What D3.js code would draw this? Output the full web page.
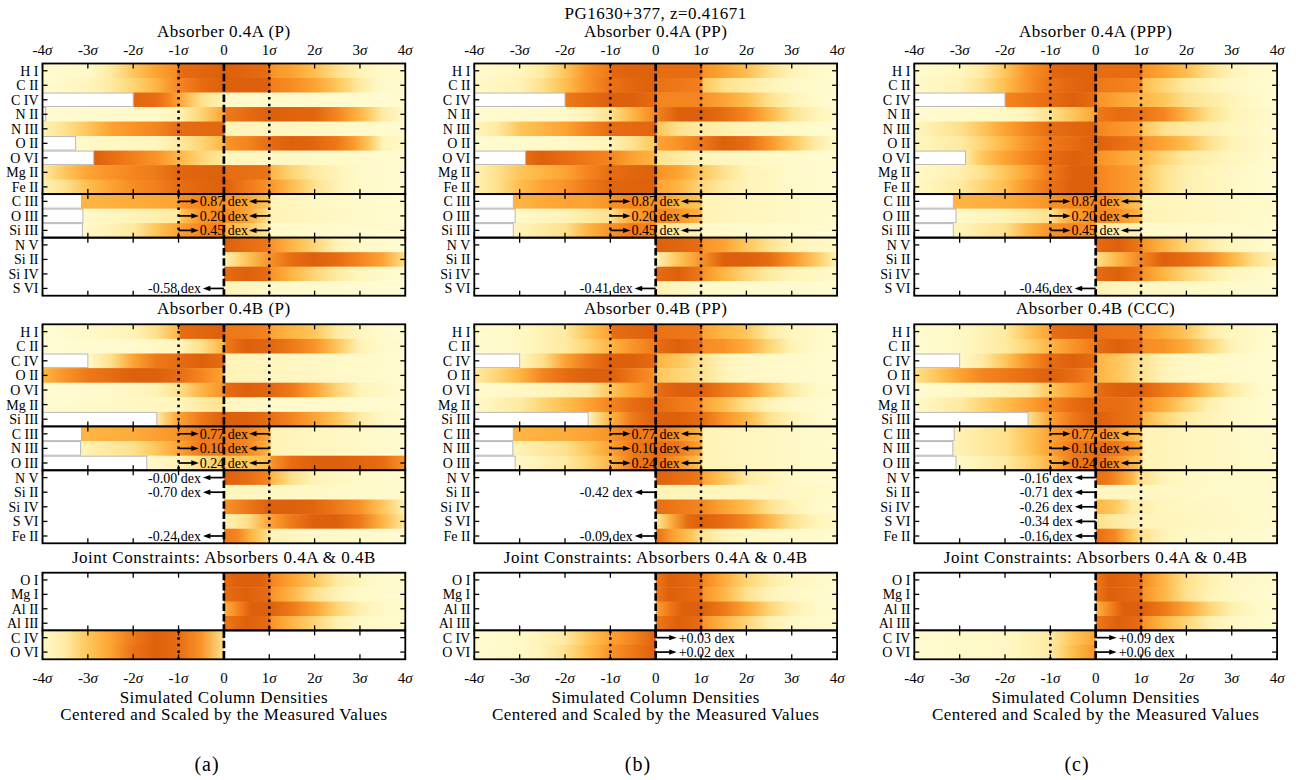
<!DOCTYPE html>
<html><head><meta charset="utf-8">
<script src="https://cdn.jsdelivr.net/npm/d3@7"></script>
<style>
body{margin:0;background:#fff;}
svg text{font-family:"Liberation Serif","Times New Roman",serif;fill:#000;}
</style></head><body>
<svg id="chart" width="1303" height="780"></svg>
<script>
// ---------------- DATA ----------------
const mainTitle = "PG1630+377, z=0.41671";
const figLabels = ["(a)", "(b)", "(c)"];
const titlesA = ["Absorber 0.4A (P)", "Absorber 0.4A (PP)", "Absorber 0.4A (PPP)"];
const titlesB = ["Absorber 0.4B (P)", "Absorber 0.4B (PP)", "Absorber 0.4B (CCC)"];
const titleJ = "Joint Constraints: Absorbers 0.4A & 0.4B";
const xLabel1 = "Simulated Column Densities";
const xLabel2 = "Centered and Scaled by the Measured Values";
const sigmaTicks = [-4, -3, -2, -1, 0, 1, 2, 3, 4];
const sigmaTickLabels = ["-4σ", "-3σ", "-2σ", "-1σ", "0", "1σ", "2σ", "3σ", "4σ"];

const ionsA1 = ["H I", "C II", "C IV", "N II", "N III", "O II", "O VI", "Mg II", "Fe II"];
const ionsA2 = ["C III", "O III", "Si III"];
const ionsA3 = ["N V", "Si II", "Si IV", "S VI"];
const ionsB1 = ["H I", "C II", "C IV", "O II", "O VI", "Mg II", "Si III"];
const ionsB2 = ["C III", "N III", "O III"];
const ionsB3 = ["N V", "Si II", "Si IV", "S VI", "Fe II"];
const ionsJ1 = ["O I", "Mg I", "Al II", "Al III"];
const ionsJ2 = ["C IV", "O VI"];

// annotations (dex offsets)
const dexA2 = ["0.87 dex", "0.20 dex", "0.45 dex"];
const dexB2 = ["0.77 dex", "0.10 dex", "0.24 dex"];
const dexA3 = [[null, null, null, "-0.58 dex"], [null, null, null, "-0.41 dex"], [null, null, null, "-0.46 dex"]];
const dexB3 = [["-0.00 dex", "-0.70 dex", null, null, "-0.24 dex"],
               [null, "-0.42 dex", null, null, "-0.09 dex"],
               ["-0.16 dex", "-0.71 dex", "-0.26 dex", "-0.34 dex", "-0.16 dex"]];
const dexJ2 = [[null, null], ["+0.03 dex", "+0.02 dex"], ["+0.09 dex", "+0.06 dex"]];

// density of simulated values: [sigma, intensity 0..10]; extent = coloured range
// ---- model (a) ----
const aA1 = [
 [[-4,0.3],[-3,0.5],[-2.5,1.5],[-2,3],[-1.5,5],[-1.05,6.5],[-1,9],[0,10],[1,9],[1.05,6],[1.5,5],[2,3.5],[2.5,2],[3,1],[3.5,0.5],[4,0.3]],
 [[-4,0.3],[-3,0.8],[-2.5,1.5],[-2,2.5],[-1.5,4],[-1,7],[-0.5,9],[0,10],[1,10],[1.05,7.5],[1.5,6.5],[2,5],[2.5,3],[3,1.5],[3.5,0.5],[4,0.3]],
 [[-2,9.5],[-1.5,9],[-1.2,7],[-1,5],[-0.5,2],[0,1],[0.05,0.5],[4,0.3]],
 [[-3.93,0.3],[-1.5,0.5],[-1,1],[-0.5,2.5],[0,5],[0.05,8],[0.5,9],[1,10],[2,9.5],[2.5,7],[3,4],[3.5,1.5],[4,0.5]],
 [[-4,1],[-3.5,2],[-3,3],[-2.5,5],[-2,6],[-1.5,7],[-1,9],[0,9.5],[0.05,1],[1,0.8],[4,0.3]],
 [[-3.27,0.5],[-1.5,0.8],[-1,1.5],[-0.5,2.5],[0,4],[0.05,6],[0.5,7],[1,9],[1.5,10],[2,9.5],[2.5,8],[2.8,6],[3.2,3],[3.5,1],[4,0.5]],
 [[-2.87,10],[-2.5,9],[-2,7.5],[-1.5,6],[-1,4],[-0.5,2.5],[0,1.5],[0.05,0.8],[4,0.3]],
 [[-4,1.5],[-3.5,3],[-3,5],[-2.5,6],[-2,7],[-1.5,8],[-1,9.5],[0,10],[0.05,9],[1,8.5],[1.05,4],[1.5,2.5],[2,1.5],[2.5,1],[3,0.5],[4,0.3]],
 [[-4,1],[-3.5,2],[-3,3.5],[-2.5,5],[-2,6.5],[-1.5,7.5],[-1,9],[0,10],[0.5,8],[1,6],[1.5,3.5],[2,2],[2.5,1],[3,0.5],[4,0.3]]
];
const aA2 = [
 [[-3.14,4],[-2,4.5],[-1,5],[-0.95,6],[-0.5,7],[0,6],[0.5,5],[1,3],[1.05,1],[2,0.6],[4,0.3]],
 [[-3.11,0.5],[-2,1],[-1,1.5],[-0.95,3],[-0.5,6],[0,7],[0.5,5],[1,2],[1.05,1],[3,0.5],[4,0.3]],
 [[-3.12,0.5],[-2,1.5],[-1.5,3],[-1,5],[-0.5,7],[0,7.5],[0.05,4],[0.5,3],[1,1.5],[1.05,0.5],[4,0.3]]
];
const aA3 = [
 [[0,10],[0.5,9],[1,8],[1.05,6],[1.5,4],[2,2.5],[2.5,1],[3,0.5],[4,0.3]],
 [[0,1],[0.5,3],[1,6],[1.5,9],[2,10],[2.5,9],[3,7],[3.5,5],[4,2]],
 [[0,9],[0.5,10],[1,9],[1.05,6],[1.5,4],[2,2.5],[2.5,1.5],[3,0.8],[4,0.3]],
 [[0,1],[1,0.5],[4,0.2]]
];
const aB1 = [
 [[-4,0.2],[-3,0.5],[-2,1],[-1.5,2],[-1,4],[-0.95,9],[0,10],[0.05,8],[0.5,8],[1,7],[1.05,5],[1.5,4],[2,3],[2.5,1.5],[3,0.8],[3.5,0.4],[4,0.2]],
 [[-4,0.2],[-2,0.4],[-1,0.8],[-0.5,2],[0,4],[0.05,8],[0.5,10],[1,9.5],[1.5,8],[2,6],[2.5,3],[3,1],[3.5,0.5],[4,0.3]],
 [[-3,0.5],[-2.5,2],[-2,5],[-1.5,8],[-1,9],[-0.5,10],[0,9],[0.05,1],[4,0.3]],
 [[-4,4],[-3.5,6],[-3,8],[-2.5,9],[-2,10],[-1.5,10],[-1,9],[-0.5,7],[0,5],[0.05,1],[4,0.3]],
 [[-4,0.2],[-2.5,0.5],[-1.5,1],[-1,2],[-0.5,4],[0,6],[0.05,9],[0.5,10],[1,9.5],[1.5,8],[2,5],[2.5,2.5],[3,1],[4,0.3]],
 [[-4,0.3],[-1,0.8],[-0.5,1.5],[0,2],[0.05,0.8],[1,0.5],[4,0.3]],
 [[-1.48,1.5],[-1,5],[-0.5,8],[0,10],[0.5,10],[1,9],[1.5,7],[2,5],[2.5,3],[3,1.5],[3.5,0.6],[4,0.3]]
];
const aB2 = [
 [[-3.14,4],[-2,4.5],[-1,6],[-0.5,8],[0,8],[0.5,7],[1,5],[1.05,1],[4,0.3]],
 [[-3.16,1],[-2,2],[-1.5,3],[-1,5],[-0.5,8],[0,8],[0.5,7],[1,4],[1.05,1],[4,0.3]],
 [[-1.7,0.5],[-1,1],[-0.5,2],[0,3],[0.5,3],[1,3.5],[1.05,6],[1.5,9],[2,10],[2.5,10],[3,9.5],[3.5,9],[4,6]]
];
const aB3 = [
 [[0,10],[0.5,9],[1,7],[1.05,4],[1.5,2],[2,1],[3,0.5],[4,0.3]],
 [[0,0.8],[4,0.4]],
 [[0,6],[0.5,8],[1,10],[1.5,10],[2,9.5],[2.5,8],[3,6],[3.5,3],[4,1]],
 [[0,1],[0.5,2],[1,5],[1.5,8],[2,10],[2.5,10],[3,8],[3.5,4],[4,1.5]],
 [[0,8],[0.3,7],[0.6,4],[1,2],[1.05,1],[2,0.5],[4,0.3]]
];
const aJ1 = [
 [[0,9],[0.3,10],[0.8,10],[1,9],[1.05,7],[1.5,5],[2,3],[2.5,1.5],[3,0.8],[3.5,0.5],[4,0.3]],
 [[0,9],[0.5,10],[1,9],[1.05,6],[1.5,4],[2,2],[2.5,1],[3,0.5],[4,0.3]],
 [[0,4],[0.3,7],[0.6,10],[1,10],[1.5,8],[2,5],[2.5,2.5],[3,1.2],[3.5,0.6],[4,0.3]],
 [[0,8],[0.5,10],[1,9],[1.05,6],[1.5,4],[2,2.5],[2.5,1.2],[3,0.6],[4,0.3]]
];
const aJ2 = [
 [[-4,0.5],[-3.5,1.5],[-3,3],[-2.5,5],[-2,8],[-1.5,10],[-1,9],[-0.5,6],[0,2]],
 [[-4,0.5],[-3.5,1.5],[-3,3],[-2.5,5],[-2,8.5],[-1.5,10],[-1,9],[-0.5,6],[0,2]]
];
// ---- model (b) ----
const bA1 = [
 [[-4,0.3],[-3,0.8],[-2.5,1.5],[-2,3],[-1.5,6],[-1,8],[-0.95,9.5],[0,10],[0.05,9],[1,9],[1.05,6],[1.5,5],[2,3.5],[2.5,2],[3,1],[3.5,0.5],[4,0.3]],
 [[-4,0.5],[-3,1],[-2.5,2],[-2,3.5],[-1.5,6],[-1,8.5],[-0.5,9.5],[0,10],[0.05,8.5],[1,7.5],[1.05,3],[1.5,2],[2,1.5],[2.5,1],[3,0.6],[4,0.3]],
 [[-2,8],[-1.5,9],[-1,10],[-0.5,10],[0,9],[0.05,7],[0.5,7],[1,7],[1.05,6],[1.5,5],[2,3.5],[2.5,2],[3,1],[3.5,0.5],[4,0.3]],
 [[-4,0.3],[-2,0.5],[-1.5,1],[-1,2],[-0.5,4],[0,7],[0.5,10],[1,10],[1.5,9],[2,7],[2.5,4],[3,2],[3.5,1],[4,0.5]],
 [[-4,0.8],[-3.5,1.5],[-3,3],[-2.5,4],[-2,5],[-1.5,7],[-1,9],[0,9.5],[0.05,3],[0.5,2],[1,1.5],[2,1],[3,0.5],[4,0.3]],
 [[-4,0.3],[-2,0.5],[-1,1],[-0.5,2],[0,3],[0.05,5],[0.5,6],[1,8],[1.5,10],[2,9],[2.5,6],[3,3],[3.5,1.5],[4,0.5]],
 [[-2.87,9],[-2.5,10],[-2,9],[-1.5,8],[-1,7],[-0.5,5],[0,4],[0.05,2],[0.5,1.5],[1,1],[2,0.6],[4,0.3]],
 [[-4,1],[-3.5,2],[-3,3],[-2.5,4],[-2,5],[-1.5,7],[-1,9],[0,10],[0.05,6],[0.5,5],[1,3],[1.5,2],[2,1],[3,0.5],[4,0.3]],
 [[-4,1],[-3.5,2],[-3,3.5],[-2.5,5],[-2,6],[-1.5,8],[-1,9.5],[0,10],[0.05,5],[0.5,4],[1,2.5],[1.5,1.5],[2,1],[3,0.5],[4,0.3]]
];
const bA2 = [
 [[-3.14,4],[-2,5],[-1.5,5],[-1,6],[-0.5,7],[0,6],[0.5,4],[1,3],[1.05,1],[4,0.4]],
 [[-3.1,0.5],[-2,1],[-1,2],[-0.5,5],[0,7],[0.5,6],[1,4],[1.05,1],[4,0.4]],
 [[-3.14,0.8],[-2,2],[-1.5,4],[-1,6],[-0.5,8],[0,7],[0.05,2],[1,1],[1.05,0.5],[4,0.3]]
];
const bA3 = [
 [[0,10],[1,9],[1.05,6],[1.5,5],[2,3],[2.5,2],[3,1],[4,0.5]],
 [[0,1],[0.5,3],[1,6],[1.5,10],[2,10],[2.5,9],[3,6],[3.5,3],[4,1]],
 [[0,9],[0.5,10],[1,8],[1.05,6],[1.5,4],[2,2.5],[2.5,1.5],[3,1],[4,0.5]],
 [[0,1.2],[0.5,0.8],[1,0.5],[4,0.3]]
];
const bB1 = [
 [[-4,0.3],[-3,0.6],[-2,1.5],[-1.5,3],[-1,5],[-0.95,9],[0,10],[0.05,8.5],[1,8],[1.05,5],[1.5,4],[2,3],[2.5,1.5],[3,0.8],[4,0.3]],
 [[-4,0.3],[-3,0.6],[-2,1.5],[-1.5,2.5],[-1,4],[-0.5,6],[0,8],[0.05,9],[0.5,10],[1,9],[1.05,6.5],[1.5,6],[2,4.5],[2.5,2.5],[3,1],[3.5,0.5],[4,0.3]],
 [[-3,0.8],[-2.5,2],[-2,5],[-1.5,8],[-1,10],[-0.5,10],[0,9],[0.05,4],[0.5,3],[1,2],[1.5,1],[2,0.6],[4,0.3]],
 [[-4,1.5],[-3.5,2.5],[-3,4],[-2.5,7],[-2,9],[-1.5,10],[-1,10],[-0.5,8],[0,6],[0.05,3],[0.5,2.5],[1,2],[1.5,1],[2,0.6],[4,0.3]],
 [[-4,0.3],[-2.5,0.8],[-1.5,1.5],[-1,3],[-0.5,5],[0,7],[0.05,9],[0.5,10],[1,10],[1.5,8],[2,6],[2.5,3],[3,1.5],[3.5,0.6],[4,0.3]],
 [[-4,0.5],[-3,1.5],[-2.5,2.5],[-2,3.5],[-1.5,5],[-1,7],[-0.5,9],[0,10],[0.05,9],[0.5,8],[1,7],[1.05,5],[1.5,3.5],[2,2],[2.5,1],[3,0.5],[4,0.3]],
 [[-1.49,1],[-1,4],[-0.5,8],[0,10],[0.5,10],[1,9],[1.5,6],[2,4],[2.5,2],[3,1],[3.5,0.5],[4,0.3]]
];
const bB2 = [
 [[-3.14,4],[-2,4.5],[-1.5,5],[-1,6],[-0.5,8],[0,8],[0.5,6],[1,4],[1.05,1],[4,0.4]],
 [[-3.15,1],[-2,2],[-1.5,3],[-1,5],[-0.5,8],[0,9],[0.5,8],[1,5],[1.05,1],[4,0.4]],
 [[-3.1,0.5],[-2,1.5],[-1.5,2.5],[-1,4],[-0.5,8],[0,9],[0.5,6],[1,3],[1.05,1],[4,0.4]]
];
const bB3 = [
 [[0,10],[0.5,9],[1,8],[1.05,5],[1.5,3],[2,1.5],[2.5,1],[3,0.5],[4,0.3]],
 [[0,1],[4,0.5]],
 [[0,9],[0.5,8],[1,7],[1.5,5],[2,3.5],[2.5,2],[3,1],[3.5,0.5],[4,0.3]],
 [[0,1.5],[0.3,4],[0.7,9],[1,10],[1.5,9],[2,7],[2.5,4],[3,2],[3.5,1],[4,0.5]],
 [[0,9],[0.4,5],[0.8,3],[1,2],[1.5,1],[2,0.6],[4,0.3]]
];
const bJ1 = [
 [[0,8],[0.3,10],[1,9],[1.05,7],[1.5,4.5],[2,2.5],[2.5,1.5],[3,0.8],[4,0.4]],
 [[0,8],[0.3,10],[1,9],[1.05,6],[1.5,4],[2,2],[2.5,1],[3,0.6],[4,0.3]],
 [[0,5],[0.3,8],[0.6,10],[1,10],[1.5,8],[2,5],[2.5,2.5],[3,1.2],[3.5,0.6],[4,0.3]],
 [[0,8],[0.5,10],[1,9],[1.05,6],[1.5,4],[2,2.5],[2.5,1.2],[3,0.6],[4,0.3]]
];
const bJ2 = [
 [[-4,0.3],[-3,0.5],[-2.5,1],[-2,1.5],[-1.5,3],[-1,5],[-0.5,7],[0,10]],
 [[-4,0.3],[-3,0.6],[-2.5,1],[-2,2],[-1.5,3.5],[-1,6],[-0.5,8],[0,10]]
];
// ---- model (c) ----
const cA1 = [
 [[-4,0.3],[-3,0.8],[-2.5,1.5],[-2,3],[-1.5,6],[-1,8],[-0.95,9.5],[0,10],[0.05,9],[1,9],[1.05,6],[1.5,5],[2,3.5],[2.5,2],[3,1],[3.5,0.5],[4,0.3]],
 [[-4,0.5],[-3,1],[-2.5,2],[-2,3.5],[-1.5,6],[-1,8.5],[-0.5,9.5],[0,10],[0.05,8],[1,7],[1.05,3.5],[1.5,2.5],[2,1.5],[2.5,1],[3,0.6],[4,0.3]],
 [[-2,7],[-1.5,8],[-1,9],[-0.5,10],[0,9],[0.05,6],[0.5,5],[1,4],[1.5,3],[2,2],[2.5,1.5],[3,1],[3.5,0.5],[4,0.3]],
 [[-4,0.3],[-2,0.6],[-1.5,1],[-1,2],[-0.5,3],[0,5],[0.05,8],[0.5,9],[1,8.5],[1.5,7],[2,4],[2.5,2],[3,1],[4,0.4]],
 [[-4,0.8],[-3,2],[-2.5,3],[-2,5],[-1.5,7],[-1,9],[0,10],[0.05,7],[0.5,6],[1,5],[1.05,3],[1.5,2],[2,1.5],[3,0.8],[4,0.3]],
 [[-4,0.8],[-3,1.5],[-2.5,2.5],[-2,4],[-1.5,6],[-1,8],[-0.5,9],[0,10],[0.5,9],[1,8],[1.05,6],[1.5,5],[2,3.5],[2.5,2],[3,1],[4,0.4]],
 [[-2.87,1.5],[-2.5,3],[-2,5],[-1.5,7],[-1,9],[-0.5,10],[0,9.5],[0.05,6],[0.5,5],[1,4],[1.5,2.5],[2,1.5],[3,0.8],[4,0.3]],
 [[-4,0.5],[-3,1.2],[-2.5,2],[-2,3],[-1.5,5],[-1,8],[-0.5,10],[0,10],[0.05,7],[0.5,6],[1,5],[1.05,3],[1.5,2],[2,1.2],[3,0.6],[4,0.3]],
 [[-4,0.6],[-3,1.5],[-2.5,2.5],[-2,3.5],[-1.5,6],[-1,8.5],[-0.5,10],[0,10],[0.05,7],[0.5,6],[1,5],[1.05,3],[1.5,2],[2,1.2],[3,0.6],[4,0.3]]
];
const cA2 = [
 [[-3.14,4],[-2,4.5],[-1.5,5],[-1,6],[-0.5,7],[0,7],[0.5,5],[1,3],[1.05,1],[4,0.4]],
 [[-3.08,0.5],[-2,1],[-1,2],[-0.5,5],[0,7],[0.5,6],[1,4],[1.05,1],[4,0.4]],
 [[-3.14,0.8],[-2,2],[-1.5,4],[-1,6],[-0.5,7],[0,6],[0.05,1.5],[1,1],[1.05,0.5],[4,0.3]]
];
const cA3 = [
 [[0,9],[0.5,10],[1,8],[1.05,6],[1.5,4],[2,2.5],[2.5,1.5],[3,0.8],[4,0.3]],
 [[0,2],[0.5,4],[1,7],[1.5,10],[2,9],[2.5,7],[3,4],[3.5,2],[4,1]],
 [[0,9],[0.5,10],[1,8],[1.05,6],[1.5,4],[2,2.5],[2.5,1.5],[3,0.8],[4,0.3]],
 [[0,1.2],[0.5,0.8],[4,0.3]]
];
const cB1 = [
 [[-4,0.3],[-3,0.6],[-2,1.5],[-1.5,3],[-1,5],[-0.95,9],[0,10],[0.05,8.5],[1,8],[1.05,5.5],[1.5,4.5],[2,3],[2.5,1.5],[3,0.8],[4,0.3]],
 [[-4,0.3],[-3,0.6],[-2,1.5],[-1.5,2.5],[-1,4],[-0.5,6],[0,8],[0.05,9],[0.5,10],[1,9],[1.05,6.5],[1.5,6],[2,4.5],[2.5,2.5],[3,1],[3.5,0.5],[4,0.3]],
 [[-3,0.5],[-2.5,1.5],[-2,3],[-1.5,6],[-1,9],[-0.5,10],[0,9],[0.05,4],[0.5,3],[1,2],[1.5,1],[2,0.6],[4,0.3]],
 [[-4,2],[-3.5,3],[-3,5],[-2.5,7],[-2,8],[-1.5,9],[-1,10],[-0.5,9],[0,7],[0.05,4],[0.5,3],[1,2],[1.5,1],[2,0.6],[4,0.3]],
 [[-4,0.3],[-2.5,0.8],[-1.5,1.5],[-1,3],[-0.5,5],[0,7],[0.05,9],[0.5,10],[1,10],[1.5,8],[2,6],[2.5,3],[3,1.5],[3.5,0.6],[4,0.3]],
 [[-4,0.5],[-3,1.5],[-2.5,2.5],[-2,3.5],[-1.5,5],[-1,7],[-0.5,9],[0,10],[0.05,9],[0.5,9],[1,8],[1.05,6],[1.5,4.5],[2,2.5],[2.5,1.2],[3,0.6],[4,0.3]],
 [[-1.49,2],[-1,5],[-0.5,8],[0,10],[0.5,9],[1,8],[1.05,4],[1.5,2.5],[2,1.5],[2.5,1],[3,0.6],[4,0.3]]
];
const cB2 = [
 [[-3.12,1],[-2,2],[-1.5,3],[-1,5],[-0.5,7],[0,7],[0.5,5],[1,3],[1.05,1],[4,0.4]],
 [[-3.15,1],[-2,2],[-1.5,3],[-1,5],[-0.5,8],[0,9],[0.5,8],[1,5],[1.05,1],[4,0.4]],
 [[-3.08,0.5],[-2,1.5],[-1.5,2.5],[-1,4],[-0.5,8],[0,9],[0.5,6],[1,3],[1.05,1],[4,0.4]]
];
const cB3 = [
 [[0,9],[0.3,8],[0.8,4],[1,2],[1.5,1],[2,0.6],[4,0.4]],
 [[0,0.8],[4,0.4]],
 [[0,4],[0.4,3],[0.8,1.5],[1.5,0.8],[4,0.4]],
 [[0,2],[0.5,1.5],[1,1],[4,0.4]],
 [[0,9],[0.4,7],[0.8,3],[1,2],[1.5,1],[2,0.6],[4,0.3]]
];
const cJ1 = [
 [[0,8],[0.3,10],[1,9],[1.05,6.5],[1.5,4],[2,2],[2.5,1.2],[3,0.7],[4,0.4]],
 [[0,8],[0.3,10],[1,9],[1.05,6],[1.5,4],[2,2],[2.5,1],[3,0.6],[4,0.3]],
 [[0,4],[0.3,7],[0.6,10],[1,10],[1.5,8],[2,5],[2.5,2.5],[3,1.2],[3.5,0.6],[4,0.3]],
 [[0,8],[0.5,10],[1,9],[1.05,6],[1.5,4],[2,2.5],[2.5,1.2],[3,0.6],[4,0.3]]
];
const cJ2 = [
 [[-4,0.3],[-2,0.6],[-1,1.5],[-0.5,3],[0,5]],
 [[-4,0.3],[-2,0.6],[-1,1.5],[-0.5,3.5],[0,6]]
];

// ---------------- LAYOUT ----------------
const svg = d3.select("#chart");
const defs = svg.append("defs");
const colX = [42.5, 474.3, 914.3];
const plotW = 362.8;
const figLabelX = [207, 638, 1077];
const panelY = { A: [63.5, 295.7], B: [324.3, 543.3], J: [572.7, 659.3] };
const FONT_SMALL = 14, LS_SMALL = 0, FONT_TICK = 15, FONT_BIG = 17, LS_BIG = 0.5;

// colour map (YlOrBr, truncated)
const tOf = d3.scaleLinear().domain([0, 1, 3, 5.5, 8, 10]).range([0.03, 0.14, 0.36, 0.5, 0.6, 0.68]).clamp(true);
const cmap = v => d3.interpolateYlOrBr(tOf(v));

const dotted = { m: [-1, 1], l: [1], u: [-1] };

const columns = [
  { A: [[ionsA1, aA1, "m"], [ionsA2, aA2, "m"], [ionsA3, aA3, "l"]],
    B: [[ionsB1, aB1, "m"], [ionsB2, aB2, "m"], [ionsB3, aB3, "l"]],
    J: [[ionsJ1, aJ1, "l"], [ionsJ2, aJ2, "u"]] },
  { A: [[ionsA1, bA1, "m"], [ionsA2, bA2, "m"], [ionsA3, bA3, "l"]],
    B: [[ionsB1, bB1, "m"], [ionsB2, bB2, "m"], [ionsB3, bB3, "l"]],
    J: [[ionsJ1, bJ1, "l"], [ionsJ2, bJ2, "u"]] },
  { A: [[ionsA1, cA1, "m"], [ionsA2, cA2, "m"], [ionsA3, cA3, "l"]],
    B: [[ionsB1, cB1, "m"], [ionsB2, cB2, "m"], [ionsB3, cB3, "l"]],
    J: [[ionsJ1, cJ1, "l"], [ionsJ2, cJ2, "u"]] }
];

function txt(g, x, y, s, size, anchor, ls) {
  return g.append("text").attr("x", x).attr("y", y).attr("dy", "0.35em")
    .attr("text-anchor", anchor || "middle").style("font-size", size + "px")
    .style("letter-spacing", (ls || 0) + "px").text(s);
}
function sigmaTxt(g, x, y, s) {
  const t = g.append("text").attr("x", x).attr("y", y).attr("dy", "0.35em")
    .attr("text-anchor", "middle").style("font-size", FONT_TICK + "px");
  const k = s.indexOf("σ");
  if (k < 0) { t.text(s); return; }
  t.append("tspan").text(s.slice(0, k));
  t.append("tspan").style("font-style", "italic").text("σ");
}
function arrow(g, x1, x2, y) {
  const dir = x2 > x1 ? 1 : -1, hl = 7.5, hw = 2.7;
  g.append("line").attr("x1", x1).attr("x2", x2 - dir * hl * 0.8).attr("y1", y).attr("y2", y)
    .attr("stroke", "#000").attr("stroke-width", 1.7);
  g.append("path").attr("d", `M${x2},${y}L${x2 - dir * hl},${y - hw}L${x2 - dir * hl},${y + hw}Z`).attr("fill", "#000");
}

let gid = 0;
function drawPanel(ci, key, blocks, annot) {
  const x0 = colX[ci];
  const x = d3.scaleLinear().domain([-4, 4]).range([x0, x0 + plotW]);
  const nRows = d3.sum(blocks, b => b[0].length);
  const y = d3.scaleLinear().domain([0, nRows]).range(panelY[key]);
  const g = svg.append("g");
  let idx = 0;
  blocks.forEach((b, bi) => {
    const [ions, dens, kind] = b;
    const r0 = idx, r1 = idx + ions.length;
    const gRows = g.append("g"), gLines = g.append("g"), gAx = g.append("g"), gAnn = g.append("g");
    ions.forEach((ion, i) => {
      const k = r0 + i, st = dens[i];
      const xs = st[0][0], xe = st[st.length - 1][0];
      const id = "gr" + (gid++);
      const lg = defs.append("linearGradient").attr("id", id).attr("gradientUnits", "userSpaceOnUse")
        .attr("x1", x(xs)).attr("x2", x(xe)).attr("y1", 0).attr("y2", 0);
      st.forEach(([s, v]) => lg.append("stop").attr("offset", (s - xs) / (xe - xs)).attr("stop-color", cmap(v)));
      gRows.append("rect").attr("x", x(xs)).attr("width", x(xe) - x(xs))
        .attr("y", y(k)).attr("height", y(k + 1) - y(k) + 0.4).attr("fill", `url(#${id})`);
      if (kind === "m" && xs > -4) {
        gRows.append("rect").attr("x", x(-4)).attr("width", x(xs) - x(-4))
          .attr("y", y(k) + 0.5).attr("height", y(k + 1) - y(k) - 1)
          .attr("fill", "#fff").attr("stroke", "#b8b8b8").attr("stroke-width", 1);
      }
      txt(g, x0 - 4, (y(k) + y(k + 1)) / 2, ion, FONT_SMALL, "end", LS_SMALL);
      [[x(-4), 1], [x(4), -1]].forEach(([xx, d]) =>
        gAx.append("line").attr("x1", xx).attr("x2", xx + d * 5).attr("y1", (y(k) + y(k + 1)) / 2)
          .attr("y2", (y(k) + y(k + 1)) / 2).attr("stroke", "#000").attr("stroke-width", 1.3));
    });
    gLines.append("line").attr("x1", x(0)).attr("x2", x(0)).attr("y1", y(r0)).attr("y2", y(r1))
      .attr("stroke", "#000").attr("stroke-width", 2.7).attr("stroke-dasharray", "7.5,2.8");
    dotted[kind].forEach(s => gLines.append("line").attr("x1", x(s)).attr("x2", x(s)).attr("y1", y(r0)).attr("y2", y(r1))
      .attr("stroke", "#000").attr("stroke-width", 2.5).attr("stroke-dasharray", "2.5,4.2"));
    gAx.append("rect").attr("x", x(-4)).attr("y", y(r0)).attr("width", plotW).attr("height", y(r1) - y(r0))
      .attr("fill", "none").attr("stroke", "#000").attr("stroke-width", 1.8);
    sigmaTicks.forEach(t => {
      gAx.append("line").attr("x1", x(t)).attr("x2", x(t)).attr("y1", y(r0)).attr("y2", y(r0) + 5).attr("stroke", "#000").attr("stroke-width", 1.3);
      gAx.append("line").attr("x1", x(t)).attr("x2", x(t)).attr("y1", y(r1)).attr("y2", y(r1) - 5).attr("stroke", "#000").attr("stroke-width", 1.3);
    });
    const an = annot[bi];
    if (an) {
      ions.forEach((ion, i) => {
        const s = an[i]; if (!s) return;
        const yc = y(r0 + i + 0.5);
        if (kind === "m") {
          const t = txt(gAnn, x(0), yc, s, FONT_SMALL, "middle", LS_SMALL);
          const w = t.node().getComputedTextLength();
          arrow(gAnn, x(-1), x(0) - w / 2 - 1, yc);
          arrow(gAnn, x(1), x(0) + w / 2 + 1, yc);
        } else if (kind === "l") {
          arrow(gAnn, x(0), x(0) - 21, yc);
          txt(gAnn, x(0) - 23, yc, s, FONT_SMALL, "end", LS_SMALL);
        } else {
          arrow(gAnn, x(0), x(0) + 21, yc);
          txt(gAnn, x(0) + 23, yc, s, FONT_SMALL, "start", LS_SMALL);
        }
      });
    }
    idx = r1;
  });
  return x;
}

columns.forEach((col, ci) => {
  const xA = drawPanel(ci, "A", col.A, [null, dexA2, dexA3[ci]]);
  drawPanel(ci, "B", col.B, [null, dexB2, dexB3[ci]]);
  const xJ = drawPanel(ci, "J", col.J, [null, dexJ2[ci]]);
  const cx = colX[ci] + plotW / 2;
  txt(svg, cx, 31.5, titlesA[ci], FONT_BIG, "middle", LS_BIG);
  txt(svg, cx, 308, titlesB[ci], FONT_BIG, "middle", LS_BIG);
  txt(svg, cx, 557.5, titleJ, FONT_BIG, "middle", LS_BIG);
  sigmaTicks.forEach((t, i) => {
    sigmaTxt(svg, xA(t), 50, sigmaTickLabels[i]);
    sigmaTxt(svg, xJ(t), 678, sigmaTickLabels[i]);
  });
  txt(svg, cx, 697, xLabel1, FONT_BIG, "middle", LS_BIG);
  txt(svg, cx, 714, xLabel2, FONT_BIG, "middle", LS_BIG);
  txt(svg, figLabelX[ci], 764, figLabels[ci], 20, "middle", 1);
});
txt(svg, colX[1] + plotW / 2, 13.5, mainTitle, FONT_BIG, "middle", LS_BIG);
</script></body></html>
